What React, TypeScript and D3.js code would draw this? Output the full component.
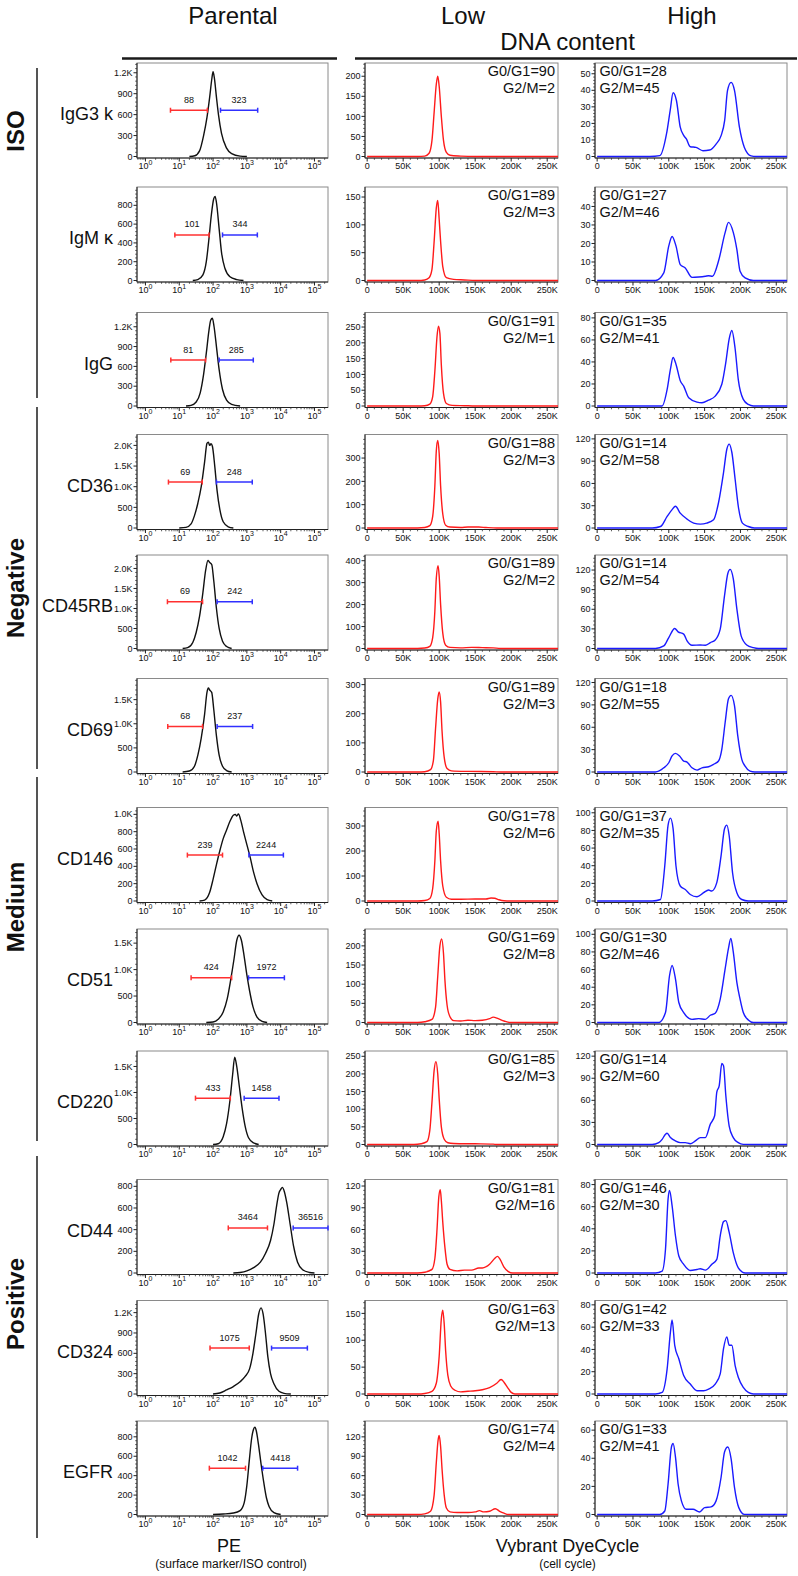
import React from "react";
import * as d3 from "d3";

type Pt = [number, number];

// ---------- data ----------
const markers = ["IgG3 k", "IgM κ", "IgG", "CD36", "CD45RB", "CD69", "CD146", "CD51", "CD220", "CD44", "CD324", "EGFR"];
const groupNames = ["ISO", "Negative", "Medium", "Positive"];

// PE histograms (x = log10 intensity, y = count)
const peCurves: Pt[][] = [
  [[1.3,0],[1.46,10],[1.6,80],[1.72,300],[1.82,560],[1.9,850],[1.96,1100],[2.0,1215],[2.04,1120],[2.1,850],[2.16,600],[2.25,330],[2.4,120],[2.55,40],[2.8,5],[3.0,0]],
  [[1.4,0],[1.55,10],[1.7,60],[1.8,200],[1.88,450],[1.95,700],[2.02,870],[2.06,895],[2.1,830],[2.18,550],[2.25,300],[2.35,130],[2.5,40],[2.7,10],[2.9,0]],
  [[1.2,0],[1.35,10],[1.5,60],[1.62,200],[1.72,480],[1.8,800],[1.88,1150],[1.93,1300],[1.98,1330],[2.03,1200],[2.1,900],[2.18,550],[2.28,250],[2.4,90],[2.55,25],[2.8,0]],
  [[1.0,0],[1.2,15],[1.35,100],[1.45,300],[1.55,600],[1.65,1000],[1.75,1600],[1.82,2050],[1.86,2080],[1.9,2000],[1.94,2040],[1.98,1980],[2.05,1500],[2.12,900],[2.2,450],[2.3,150],[2.45,30],[2.6,0]],
  [[1.1,0],[1.25,20],[1.4,150],[1.5,400],[1.6,800],[1.7,1400],[1.78,1950],[1.85,2200],[1.9,2150],[1.96,2100],[2.02,1700],[2.1,1000],[2.18,500],[2.28,180],[2.4,50],[2.55,0]],
  [[1.1,0],[1.3,20],[1.45,120],[1.55,350],[1.65,700],[1.75,1200],[1.82,1650],[1.86,1740],[1.9,1700],[1.96,1650],[2.02,1300],[2.1,750],[2.18,350],[2.28,120],[2.4,30],[2.55,0]],
  [[1.6,0],[1.75,10],[1.9,100],[2.0,250],[2.1,420],[2.2,580],[2.3,720],[2.4,820],[2.5,920],[2.6,990],[2.66,1000],[2.7,980],[2.75,1005],[2.82,930],[2.9,800],[3.0,650],[3.1,500],[3.2,330],[3.3,200],[3.45,70],[3.6,15],[3.75,0]],
  [[1.8,0],[2.0,10],[2.15,60],[2.3,200],[2.42,450],[2.52,800],[2.62,1200],[2.7,1550],[2.77,1650],[2.84,1550],[2.92,1250],[3.0,900],[3.08,600],[3.18,300],[3.3,100],[3.45,20],[3.6,0]],
  [[2.0,0],[2.15,15],[2.3,150],[2.4,400],[2.5,850],[2.58,1350],[2.64,1680],[2.7,1500],[2.78,1100],[2.86,700],[2.95,350],[3.05,130],[3.2,30],[3.35,0]],
  [[2.6,0],[2.8,5],[3.0,20],[3.2,50],[3.4,100],[3.55,180],[3.7,300],[3.8,450],[3.88,620],[3.95,740],[4.0,770],[4.05,790],[4.1,760],[4.18,650],[4.28,450],[4.38,250],[4.5,100],[4.65,30],[4.85,5],[5.0,0]],
  [[2.0,0],[2.2,15],[2.4,60],[2.6,110],[2.8,180],[2.95,260],[3.08,370],[3.18,600],[3.27,900],[3.35,1180],[3.42,1270],[3.48,1180],[3.55,900],[3.62,550],[3.7,300],[3.8,150],[3.95,40],[4.1,10],[4.3,0]],
  [[2.0,0],[2.3,5],[2.6,15],[2.8,40],[2.92,120],[3.0,300],[3.07,550],[3.14,780],[3.2,880],[3.24,900],[3.28,860],[3.34,730],[3.42,520],[3.5,330],[3.58,170],[3.66,80],[3.8,20],[4.0,0]],
];
const peYMax = [1340, 995, 1416, 2264, 2336, 1938, 1079, 1767, 1797, 863, 1379, 963];
const peYTicks = [
  [0,300,600,900,1200],[0,200,400,600,800],[0,300,600,900,1200],[0,500,1000,1500,2000],
  [0,500,1000,1500,2000],[0,500,1000,1500],[0,200,400,600,800,1000],[0,500,1000,1500],
  [0,500,1000,1500],[0,200,400,600,800],[0,300,600,900,1200],[0,200,400,600,800],
];
const redBars: Pt[] = [[0.74,1.83],[0.87,1.88],[0.75,1.78],[0.68,1.68],[0.65,1.69],[0.66,1.69],[1.24,2.28],[1.35,2.55],[1.48,2.51],[2.45,3.61],[1.91,3.07],[1.89,2.96]];
const blueBars: Pt[] = [[2.22,3.32],[2.28,3.31],[2.18,3.19],[2.1,3.16],[2.12,3.16],[2.12,3.17],[3.06,4.08],[3.05,4.11],[2.92,3.95],[4.37,5.43],[3.73,4.79],[3.47,4.5]];
const barLevel = [663, 485, 696, 1112, 1168, 944, 530, 845, 891, 416, 677, 477];
const redLabels = ["88","101","81","69","69","68","239","424","433","3464","1075","1042"];
const blueLabels = ["323","344","285","248","242","237","2244","1972","1458","36516","9509","4418"];

// Low DNA content (x = K, y = count)
const lowCurves: Pt[][] = [
  [[0,0],[70,0],[80,1],[86,8],[90,40],[93,110],[96,180],[98,200],[100,175],[103,100],[106,40],[110,10],[115,3],[130,1],[150,0],[265,0]],
  [[0,0],[70,0],[80,1],[86,5],[90,20],[93,70],[96,130],[98,144],[100,110],[102,70],[105,25],[110,5],[120,2],[135,1],[150,0],[265,0]],
  [[0,0],[70,0],[80,1],[87,6],[91,30],[94,110],[97,220],[99,253],[101,230],[103,130],[106,40],[110,8],[118,2],[135,1],[150,0],[265,0]],
  [[0,0],[70,0],[80,2],[87,10],[91,50],[94,180],[96,330],[98,375],[100,320],[102,180],[105,60],[109,12],[115,4],[130,2],[140,4],[155,4],[165,2],[180,0],[265,0]],
  [[0,0],[70,0],[80,2],[87,10],[91,50],[94,170],[96,320],[98.5,377],[100,330],[102,200],[105,70],[109,15],[115,5],[130,3],[145,5],[160,4],[175,3],[185,0],[265,0]],
  [[0,0],[70,0],[80,1],[88,8],[92,40],[95,150],[98,250],[100,275],[102,240],[104,140],[107,50],[111,12],[117,4],[140,2],[175,1],[185,0],[265,0]],
  [[0,0],[70,0],[80,2],[87,10],[91,50],[94,160],[96,280],[98.5,319],[100,270],[102,160],[105,60],[110,15],[117,7],[130,7],[150,8],[165,8],[172,12],[177,11],[183,5],[190,1],[200,0],[265,0]],
  [[0,0],[70,0],[80,2],[90,8],[95,40],[98,120],[101,200],[103.5,218],[106,180],[108,110],[111,45],[115,15],[120,5],[130,4],[140,6],[150,5],[160,6],[170,10],[175,14],[182,10],[190,4],[198,0],[265,0]],
  [[0,0],[65,0],[75,2],[83,8],[87,40],[90,120],[93,210],[95.5,235],[98,200],[100,130],[103,50],[107,15],[112,5],[120,3],[150,2],[175,1],[180,0],[265,0]],
  [[0,0],[70,0],[80,1],[90,5],[94,20],[97,60],[99.5,105],[101.5,115],[103,100],[105,70],[108,35],[111,12],[115,5],[125,3],[135,4],[145,4],[155,7],[160,7],[170,12],[177,20],[181,23],[185,18],[190,8],[196,2],[202,0],[265,0]],
  [[0,0],[70,0],[80,1],[90,5],[96,20],[100,70],[103,140],[105,156],[107,130],[109,80],[112,35],[116,15],[122,7],[130,4],[140,5],[150,6],[160,8],[170,12],[180,20],[186,27],[190,22],[195,12],[200,3],[205,0],[265,0]],
  [[0,0],[70,0],[80,1],[88,5],[93,30],[96,80],[98.5,115],[100,122],[102,105],[104,70],[107,30],[110,10],[115,4],[125,3],[140,3],[150,4],[156,6],[162,4],[170,5],[178,9],[184,5],[190,2],[196,0],[265,0]],
];
const lowYMax = [233, 168, 296, 401, 426, 321, 374, 244, 265, 129, 174, 144.5];
const lowYTicks = [
  [0,50,100,150,200],[0,50,100,150],[0,50,100,150,200,250],[0,100,200,300],
  [0,100,200,300,400],[0,100,200,300],[0,100,200,300],[0,50,100,150,200],
  [0,50,100,150,200,250],[0,30,60,90,120],[0,50,100,150],[0,30,60,90,120],
];
const lowG0G1 = [90, 89, 91, 88, 89, 89, 78, 69, 85, 81, 63, 74];
const lowG2M = [2, 3, 1, 3, 2, 3, 6, 8, 3, 16, 13, 4];

// High DNA content
const highCurves: Pt[][] = [
  [[0,0],[73.6,0],[87.5,0.5],[96.8,13.6],[102,28],[106,38.5],[110.6,34],[116,17.7],[121,12.6],[124.5,10.6],[130,5.9],[138,5.5],[147.7,3.5],[157,3.9],[166,7.5],[173,12.6],[178,21.8],[182,40],[187,44.8],[191.7,40],[198.6,17.7],[205.5,5.5],[214.8,0.4],[221.8,0],[265,0]],
  [[0,0],[81.5,0],[93,4.1],[100,18.7],[104.6,23.8],[110,18.7],[116,8.6],[123,6.8],[132.4,1.7],[141.7,1.9],[151,2.3],[155.6,2.6],[161,2.3],[169.4,10.5],[178.7,26],[183.3,31.4],[190,26],[195,16.8],[199.5,5],[206.5,1.4],[218,0],[265,0]],
  [[0,0],[81.5,0],[90.7,0],[97.7,15],[102.3,33.5],[106,44],[110,38],[116,23],[120.8,18],[127.8,7.5],[139.4,3.5],[146.3,2.9],[155.6,5.4],[164.8,9],[174,19.7],[179.6,39.6],[184.3,61],[188,68.6],[192.6,52],[197,24],[204,6],[211,1.4],[218,0],[265,0]],
  [[0,0],[76.9,0],[88.4,2],[97.7,15.6],[104.6,24.7],[109.3,29.3],[116,20],[125.5,12],[134.7,6.6],[144,5.2],[153,6.6],[162.5,11],[169.4,34],[176.4,74.6],[181,106],[184.3,113],[188,102],[192.6,65.6],[197,29.3],[202.8,6.6],[211,2],[219.4,0],[265,0]],
  [[0,0],[81.5,0],[93,3.9],[100,16.8],[108.3,30.7],[113,25.5],[120.8,22],[125.5,11.6],[132.4,4.9],[144,5.4],[151,4.9],[158,9],[164.8,13],[171.8,29.6],[177.8,81],[182.4,114.7],[185.6,121],[190,107],[195,60.6],[201,19.3],[208.8,5.4],[218,1.3],[225,0],[265,0]],
  [[0,0],[81.5,0],[93,5.6],[100,12.4],[104.6,21.5],[109.3,25],[115,21.5],[120.8,14.7],[125.5,13.3],[132.4,5.6],[139.4,2.5],[146.3,5.6],[155.6,7],[162.5,10.2],[169.4,14.7],[174,30.5],[178.7,66.7],[183.3,98.3],[187,102.8],[191.7,89],[196.3,48.4],[201.9,17],[206.5,7.9],[213.4,1.1],[220,0],[265,0]],
  [[0,0],[76.9,0],[88.4,1.7],[94.4,40],[99,86],[102.3,94],[106,82],[110,40],[116,17],[123,13],[130,7.4],[139.4,4.8],[148.6,9.4],[155.6,12.4],[160,11.3],[167,20.8],[173,51.4],[177.8,82],[181,86],[184.3,74],[189,32],[195,9.4],[201.9,1.7],[211,0],[265,0]],
  [[0,0],[86,0],[95.4,11.3],[101,53],[104.6,64.7],[109.3,49.5],[114,22.7],[120.8,11.3],[132.4,3.6],[141.7,4.4],[151,3.6],[158,8.2],[164.8,10.5],[171.8,26.5],[178.7,61],[183.3,84],[186.6,95.3],[190,80],[195,45.6],[199.5,26.5],[204,11.3],[211,2.9],[218,0],[265,0]],
  [[0,0],[76.9,0],[86,2.5],[90.7,7],[95.4,14],[97.7,15.3],[102.3,9.4],[109.3,4.8],[116,2.5],[123,2.5],[130,1.1],[137,4.8],[144,9.4],[151,9.4],[158,27.7],[164,39],[167,71],[170.4,80],[174,110],[176.4,107],[179.6,66.6],[184.3,25],[190,9.4],[197,2.5],[204,0.2],[218,0],[265,0]],
  [[0,0],[81.5,0],[90.7,1.7],[95.4,21.5],[99,67],[101,74.8],[104.6,61],[109.3,33.7],[114,15.4],[120.8,7.8],[130,2.3],[139.4,3.2],[144,3.8],[151,2.6],[160,7.8],[167,12.3],[171.8,33.7],[176.4,46.5],[179.6,47.4],[184.3,36.7],[190,18.4],[197,4.7],[206.5,0],[265,0]],
  [[0,0],[81.5,0],[90.7,1.4],[97.7,22.5],[102.3,55.7],[104.6,66.4],[108.3,43.7],[114,31.6],[120.8,16.5],[130,8.9],[139.4,2.9],[148.6,2.9],[155.6,4.4],[164.8,8.9],[171.8,18],[176.4,40.7],[181,51.3],[184.3,43.7],[188,43.7],[192.6,25.5],[197,15],[204,5.9],[211,1.4],[218,0],[265,0]],
  [[0,0],[87.5,0],[94.4,2.5],[99,21.7],[103.7,48],[106,50.5],[109.3,41],[113,21.7],[117.6,9.7],[124.5,3.7],[133.8,3.7],[143,1.8],[150,4.9],[159,5.4],[166,9.7],[173,26.5],[177.8,44.5],[182.4,48],[187,39.6],[191.7,19.3],[197.7,4.9],[205.5,0.1],[217,0],[265,0]],
];
const highYMax = [56.5, 50.5, 84.9, 125.9, 143, 125.4, 106, 106, 127, 84.6, 83.9, 66.5];
const highYTicks = [
  [0,10,20,30,40,50],[0,10,20,30,40],[0,20,40,60,80],[0,30,60,90,120],
  [0,30,60,90,120],[0,30,60,90,120],[0,20,40,60,80,100],[0,20,40,60,80,100],
  [0,30,60,90,120],[0,20,40,60,80],[0,20,40,60,80],[0,20,40,60],
];
const highG0G1 = [28, 27, 35, 14, 14, 18, 37, 30, 14, 46, 42, 33];
const highG2M = [45, 46, 41, 58, 54, 55, 35, 46, 60, 30, 33, 41];

const dnaTicks = [0, 50, 100, 150, 200, 250];
const peDecades = [0, 1, 2, 3, 4, 5];

// ---------- layout ----------
const W = 798;
const H = 1576;
const FONT = "Liberation Sans, Arial, Helvetica, sans-serif";
const rowTops = [63, 187, 312.5, 434.5, 555, 678.5, 807.5, 929, 1051, 1179.5, 1300.5, 1421];
const PH = 95;
const PE_X: Pt = [137, 328];
const LOW_X: Pt = [365, 558];
const HIGH_X: Pt = [595, 787];
const groupSpans: Pt[] = [[68, 398], [407, 769], [777, 1141], [1156, 1538]];
const groupLabelY = [131, 588, 907, 1304];

const fmtY = (v: number) => (v >= 1000 ? (v / 1000).toFixed(1) + "K" : String(v));

interface PanelProps {
  top: number;
  xr: Pt;
  kind: "pe" | "dna";
  yMax: number;
  yTicks: number[];
  curve: Pt[];
  color: string;
}

const Panel: React.FC<PanelProps & { children?: (x: d3.ScaleLinear<number, number>, y: d3.ScaleLinear<number, number>) => React.ReactNode }> = ({ top, xr, kind, yMax, yTicks, curve, color, children }) => {
  const [x0, x1] = xr;
  const bottom = top + PH;
  const x = kind === "pe"
    ? d3.scaleLinear().domain([-0.25, 5.4]).range([x0, x1])
    : d3.scaleLinear().domain([-3, 265]).range([x0, x1]);
  const y = d3.scaleLinear().domain([0, yMax]).range([top + 93.5, top]);
  const line = d3.line<Pt>().x((d) => x(d[0])).y((d) => y(d[1])).curve(d3.curveMonotoneX);

  const step = yTicks[1] - yTicks[0];
  const yMinor = d3.range(0, yMax, step / 5).filter((v) => Math.abs(v / step - Math.round(v / step)) > 0.01);

  let xMinor: number[] = [];
  if (kind === "pe") {
    for (let n = -1; n <= 5; n++) for (let k = 2; k <= 9; k++) {
      const v = n + Math.log10(k);
      if (v > -0.25 && v < 5.4) xMinor.push(v);
    }
  } else {
    xMinor = d3.range(10, 265, 10).filter((v) => v % 50 !== 0);
  }
  const xMajor = kind === "pe" ? peDecades : dnaTicks;

  return (
    <g>
      <rect x={x0} y={top} width={x1 - x0} height={PH} fill="none" stroke="#8a8a8a" strokeWidth={1} />
      <line x1={x0} x2={x0} y1={top} y2={bottom} stroke="#222" strokeWidth={1} />
      <line x1={x0} x2={x1} y1={bottom} y2={bottom} stroke="#222" strokeWidth={1} />
      {yMinor.map((v, i) => (
        <line key={"ym" + i} x1={x0 - 1.8} x2={x0} y1={y(v)} y2={y(v)} stroke="#333" strokeWidth={0.8} />
      ))}
      {yTicks.map((v) => (
        <g key={"y" + v}>
          <line x1={x0 - 3.5} x2={x0} y1={y(v)} y2={y(v)} stroke="#222" strokeWidth={1} />
          <text x={x0 - 4.5} y={y(v)} dy="0.35em" textAnchor="end" fontSize={9} fill="#111">{fmtY(v)}</text>
        </g>
      ))}
      {xMinor.map((v, i) => (
        <line key={"xm" + i} x1={x(v)} x2={x(v)} y1={bottom} y2={bottom + 1.8} stroke="#333" strokeWidth={0.8} />
      ))}
      {xMajor.map((v) => (
        <g key={"x" + v}>
          <line x1={x(v)} x2={x(v)} y1={bottom} y2={bottom + 3.5} stroke="#222" strokeWidth={1} />
          {kind === "pe" ? (
            <text x={x(v)} y={bottom + 11} textAnchor="middle" fontSize={9} fill="#111">
              10<tspan fontSize={7} dy={-4.5}>{v}</tspan>
            </text>
          ) : (
            <text x={x(v)} y={bottom + 11} textAnchor="middle" fontSize={9} fill="#111">{v === 0 ? "0" : v + "K"}</text>
          )}
        </g>
      ))}
      <path d={line(curve) || ""} fill="none" stroke={color} strokeWidth={1.4} strokeLinejoin="round" />
      {children ? children(x, y) : null}
    </g>
  );
};

const ErrBar: React.FC<{ x: d3.ScaleLinear<number, number>; y: number; r: Pt; color: string; label: string; maxX: number }> = ({ x, y, r, color, label, maxX }) => {
  const a = x(r[0]);
  const b = Math.min(x(r[1]), maxX);
  return (
    <g>
      <line x1={a} x2={b} y1={y} y2={y} stroke={color} strokeWidth={1.5} />
      <line x1={a} x2={a} y1={y - 2.5} y2={y + 2.5} stroke={color} strokeWidth={1.5} />
      <line x1={b} x2={b} y1={y - 2.5} y2={y + 2.5} stroke={color} strokeWidth={1.5} />
      <text x={(a + b) / 2} y={y - 7.5} textAnchor="middle" fontSize={9} fill="#111">{label}</text>
    </g>
  );
};

export default function App() {
  return (
    <svg width={W} height={H} style={{ position: "absolute", left: 0, top: 0, background: "#fff" }} fontFamily={FONT}>
      <rect width={W} height={H} fill="#fff" />
      {/* column titles */}
      <text x={233} y={23.5} textAnchor="middle" fontSize={24} fill="#111">Parental</text>
      <text x={463} y={23.5} textAnchor="middle" fontSize={24} fill="#111">Low</text>
      <text x={692} y={23.5} textAnchor="middle" fontSize={24} fill="#111">High</text>
      <text x={567.5} y={49.5} textAnchor="middle" fontSize={24} fill="#111">DNA content</text>
      <line x1={122} x2={337} y1={58.5} y2={58.5} stroke="#1a1a1a" strokeWidth={2.5} />
      <line x1={355} x2={797} y1={58.5} y2={58.5} stroke="#1a1a1a" strokeWidth={2.5} />

      {/* group labels */}
      {groupNames.map((g, i) => (
        <g key={g}>
          <line x1={37} x2={37} y1={groupSpans[i][0]} y2={groupSpans[i][1]} stroke="#555" strokeWidth={2} />
          <text transform={`translate(24,${groupLabelY[i]}) rotate(-90)`} textAnchor="middle" fontSize={24} fontWeight="bold" fill="#111">{g}</text>
        </g>
      ))}

      {markers.map((m, i) => {
        const top = rowTops[i];
        return (
          <g key={m}>
            <text x={113} y={top + 57} textAnchor="end" fontSize={18} fill="#111">{m}</text>
            <Panel top={top} xr={PE_X} kind="pe" yMax={peYMax[i]} yTicks={peYTicks[i]} curve={peCurves[i]} color="#111">
              {(x, y) => (
                <g>
                  <ErrBar x={x} y={y(barLevel[i])} r={redBars[i]} color="#ff3030" label={redLabels[i]} maxX={PE_X[1]} />
                  <ErrBar x={x} y={y(barLevel[i])} r={blueBars[i]} color="#3030ff" label={blueLabels[i]} maxX={PE_X[1]} />
                </g>
              )}
            </Panel>
            <Panel top={top} xr={LOW_X} kind="dna" yMax={lowYMax[i]} yTicks={lowYTicks[i]} curve={lowCurves[i]} color="#ff1a1a">
              {() => (
                <g fontSize={14.5} fill="#111" textAnchor="end">
                  <text x={LOW_X[1] - 3} y={top + 13}>{`G0/G1=${lowG0G1[i]}`}</text>
                  <text x={LOW_X[1] - 3} y={top + 30}>{`G2/M=${lowG2M[i]}`}</text>
                </g>
              )}
            </Panel>
            <Panel top={top} xr={HIGH_X} kind="dna" yMax={highYMax[i]} yTicks={highYTicks[i]} curve={highCurves[i]} color="#1a1aff">
              {() => (
                <g fontSize={14.5} fill="#111" textAnchor="start">
                  <text x={HIGH_X[0] + 4.5} y={top + 13}>{`G0/G1=${highG0G1[i]}`}</text>
                  <text x={HIGH_X[0] + 4.5} y={top + 30}>{`G2/M=${highG2M[i]}`}</text>
                </g>
              )}
            </Panel>
          </g>
        );
      })}

      {/* bottom axis titles */}
      <text x={229} y={1551.5} textAnchor="middle" fontSize={18} fill="#111">PE</text>
      <text x={231} y={1568} textAnchor="middle" fontSize={12} fill="#111">(surface marker/ISO control)</text>
      <text x={567.5} y={1551.5} textAnchor="middle" fontSize={18} fill="#111">Vybrant DyeCycle</text>
      <text x={567.5} y={1568} textAnchor="middle" fontSize={12} fill="#111">(cell cycle)</text>
    </svg>
  );
}
